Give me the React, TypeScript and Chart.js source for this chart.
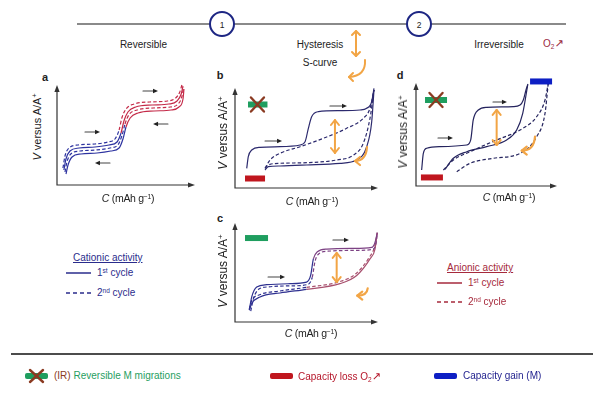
import React, { useEffect, useRef } from "react";
import { Chart, registerables } from "chart.js";
Chart.register(...registerables);

type Pt = [number, number];

// ---------- Panel a (reversible, cationic + anionic) ----------
const aCurve1: Pt[] = [[4.3,17],[5.8,29],[8.7,37],[15.2,40],[27.5,41],[37,43],[42,46],[45,55],[47,67],[50,76],[56,81],[67,83],[80,84],[86,87],[89,93],[90.5,100]];
const aCurve2: Pt[] = [[5,15],[6.5,26],[9.4,34],[16,37],[27.5,38],[37.7,40],[43.5,43],[46.4,52],[48.5,64],[51.4,73],[57,78],[69,80],[81,81],[87,84],[90,91],[91.3,99]];
const aCurve3: Pt[] = [[5.8,13],[7.2,23],[10,31],[16.7,34],[28.3,35],[38.4,37],[44,40],[47,49],[49.3,61],[52,70],[58,75],[69.6,77],[82,78],[87.7,81],[90.6,89],[91.7,98]];
const aCurve4: Pt[] = [[6.5,11],[8,20],[10.9,28],[17.4,31],[29,32],[39,34],[45,37],[47.8,46],[50,58],[53,67],[58.7,72],[70.3,74],[82.6,75],[88.4,78],[91.3,86],[92,96]];

// ---------- Panel b ----------
const bCharge1: Pt[] = [[8.2,19.7],[9.3,31.3],[11.7,38],[17.5,40.7],[31.5,41.3],[45.5,43],[49,46.3],[51.3,59.7],[53.6,71.3],[58.3,76.3],[73.4,77.3],[87.4,78],[92.1,79.7],[95.6,86.3],[97.2,99.7]];
const bCharge2: Pt[] = [[21,19.7],[24.5,28],[31.5,34.7],[45.5,41.3],[61.8,49.7],[78.1,59.7],[89.7,69.7],[94.4,79.7],[97.2,98]];
const bDischarge1: Pt[] = [[21,18],[23.3,21.3],[31.5,22],[50.1,23],[73.4,24.7],[85.1,28],[92.1,41.3],[95.6,66.3],[97.2,98]];
const bDischarge2: Pt[] = [[21,19.7],[23.3,23],[31.5,24.7],[50.1,25.3],[71.1,28],[82.7,32.7],[89.7,44.7],[94.4,69.7],[97.2,98]];

// ---------- Panel c ----------
const cCharge1: Pt[] = [[10,12],[11.7,25.3],[15.2,35.3],[22.2,37.7],[38.5,38.7],[50.1,40.3],[52.9,47],[54.8,63.7],[57.6,71],[64.1,73.7],[83,74.3],[95.6,75.3],[97.9,80.3],[99.5,90.3]];
const cCharge2: Pt[] = [[11,11],[13,24],[16.5,33],[23.5,35.5],[39,36.5],[51,38],[54,45],[56,61.5],[58.7,69],[65,71.5],[83.5,72.3],[96,73.3],[98.5,78.5],[99.5,89]];
const cDischarge1: Pt[] = [[10,12],[11.7,18.7],[17.5,25.3],[31.5,29.3],[50.1,33],[73.4,38.7],[85.1,47],[94.4,63.7],[97.9,73.7],[99.5,90.3]];
const cDischarge2: Pt[] = [[10,13],[11.5,21],[17.3,27.5],[31.3,31.3],[50,35],[73,40.7],[84.7,49],[94,65.5],[97.5,75.5],[99.5,90]];

// ---------- Panel d ----------
const dCharge1: Pt[] = [[4,15.5],[5.2,31.7],[7.6,36.6],[17,38.2],[36,39.8],[38.8,44.7],[40.6,64.1],[44.2,73.8],[50.1,76.4],[69,77],[73.8,78.6],[76.1,83.5],[78,93.2],[79.4,99]];
const dDischarge1: Pt[] = [[20.6,16.2],[26.5,26.9],[36,33.3],[50.1,38.2],[64.3,44.7],[71.4,54.4],[75.7,70.6],[79.2,98]];
const dCharge2: Pt[] = [[19.4,15.5],[26.5,25.2],[38.3,33.3],[57.2,44.7],[73.8,54.4],[85.6,67.3],[91.5,83.5],[93.8,99.7]];
const dDischarge2: Pt[] = [[28.9,13.9],[38.3,22],[54.8,26.9],[73.8,31.7],[85.6,47.9],[91.5,70.6],[93.8,99.7]];

// ---------- colours ----------
const NAVY_A = "#2d33a0";
const RED_A = "#c42a48";
const NAVY_B = "#2c2a6e";
const NAVY_C = "#2e3090";
const PURPLE_C = "#7d4284";
const RED_C = "#a8506e";
const NAVY_D = "#25245e";
const ORANGE = "#f2a545";
const XBROWN = "#8b3b22";
const GREEN = "#1f9e5f";
const REDBAR = "#c0161e";
const BLUEBAR = "#0d1fc4";
const CAT = "#2a2c8c";
const AN = "#a62a3c";

type ColorFn = (x: number, y: number) => string;
interface CurveSpec { pts: Pt[]; dash: boolean; color: ColorFn }
type Ann =
  | { t: "arrow"; x0: number; x1: number; y: number }
  | { t: "dbl"; x: number; y0: number; y1: number }
  | { t: "curl"; x0: number; y0: number; cx: number; cy: number; x1: number; y1: number }
  | { t: "bar"; x0: number; x1: number; y: number; color: string }
  | { t: "cross"; x: number; y: number };
interface PanelSpec { id: string; left: number; top: number; right: number; bottom: number; curves: CurveSpec[]; anns: Ann[] }

const colA: ColorFn = (_x, y) => (y > 57 ? RED_A : NAVY_A);
const colB: ColorFn = () => NAVY_B;
const colCCharge: ColorFn = (x) => (x > 54 ? PURPLE_C : NAVY_C);
const colCDis: ColorFn = (x) => (x > 42 ? RED_C : NAVY_C);
const colD: ColorFn = () => NAVY_D;

const PANELS: PanelSpec[] = [
  {
    id: "a", left: 57, top: 85, right: 195, bottom: 185,
    curves: [
      { pts: aCurve1, dash: true, color: colA },
      { pts: aCurve2, dash: false, color: colA },
      { pts: aCurve3, dash: true, color: colA },
      { pts: aCurve4, dash: false, color: colA },
    ],
    anns: [
      { t: "arrow", x0: 62.3, x1: 73.2, y: 94 },
      { t: "arrow", x0: 80.4, x1: 69.6, y: 61 },
      { t: "arrow", x0: 20.3, x1: 31.2, y: 53 },
      { t: "arrow", x0: 38.4, x1: 27.5, y: 22 },
    ],
  },
  {
    id: "b", left: 235, top: 88, right: 378, bottom: 188,
    curves: [
      { pts: bCharge1, dash: false, color: colB },
      { pts: bCharge2, dash: true, color: colB },
      { pts: bDischarge1, dash: false, color: colB },
      { pts: bDischarge2, dash: true, color: colB },
    ],
    anns: [
      { t: "bar", x0: 7, x1: 21, y: 9.5, color: REDBAR },
      { t: "bar", x0: 9.1, x1: 22.7, y: 83.5, color: GREEN },
      { t: "cross", x: 15.7, y: 83.5 },
      { t: "arrow", x0: 21, x1: 32.9, y: 47 },
      { t: "arrow", x0: 66.4, x1: 78.3, y: 82 },
      { t: "dbl", x: 69.9, y0: 35, y1: 68 },
      { t: "curl", x0: 92.3, y0: 41, cx: 91.6, cy: 27, x1: 83.9, y1: 27 },
    ],
  },
  {
    id: "c", left: 235, top: 223, right: 378, bottom: 322,
    curves: [
      { pts: cCharge1, dash: false, color: colCCharge },
      { pts: cCharge2, dash: true, color: colCCharge },
      { pts: cDischarge1, dash: false, color: colCDis },
      { pts: cDischarge2, dash: true, color: colCDis },
    ],
    anns: [
      { t: "bar", x0: 7, x1: 23.1, y: 84.8, color: GREEN },
      { t: "arrow", x0: 23.1, x1: 35, y: 45.5 },
      { t: "arrow", x0: 68.5, x1: 79.7, y: 82.8 },
      { t: "dbl", x: 71.1, y0: 40.4, y1: 69.7 },
      { t: "curl", x0: 92.8, y0: 34, cx: 92.3, cy: 26.6, x1: 85.5, y1: 26.6 },
    ],
  },
  {
    id: "d", left: 416, top: 83, right: 557, bottom: 186,
    curves: [
      { pts: dCharge1, dash: false, color: colD },
      { pts: dDischarge1, dash: false, color: colD },
      { pts: dCharge2, dash: true, color: colD },
      { pts: dDischarge2, dash: true, color: colD },
    ],
    anns: [
      { t: "bar", x0: 3.5, x1: 19.1, y: 8.3, color: REDBAR },
      { t: "bar", x0: 6.4, x1: 22, y: 83.5, color: GREEN },
      { t: "cross", x: 14.2, y: 83.5 },
      { t: "bar", x0: 80.9, x1: 96.5, y: 101.5, color: BLUEBAR },
      { t: "arrow", x0: 15.6, x1: 26.2, y: 46.6 },
      { t: "arrow", x0: 54.6, x1: 64.5, y: 81.6 },
      { t: "dbl", x: 57.2, y0: 39.8, y1: 73.8 },
      { t: "curl", x0: 84.4, y0: 47.9, cx: 83.7, cy: 34.3, x1: 75, y1: 34.3 },
    ],
  },
];

const PAD = 8;

function tri(ctx: CanvasRenderingContext2D, tx: number, ty: number, ang: number, len: number, hw: number) {
  ctx.save();
  ctx.translate(tx, ty);
  ctx.rotate(ang);
  ctx.beginPath();
  ctx.moveTo(0, 0);
  ctx.lineTo(-len, -hw);
  ctx.lineTo(-len, hw);
  ctx.closePath();
  ctx.fill();
  ctx.restore();
}
function chev(ctx: CanvasRenderingContext2D, tx: number, ty: number, ang: number, len: number, hw: number) {
  ctx.save();
  ctx.translate(tx, ty);
  ctx.rotate(ang);
  ctx.beginPath();
  ctx.moveTo(-len, -hw);
  ctx.lineTo(0, 0);
  ctx.lineTo(-len, hw);
  ctx.stroke();
  ctx.restore();
}

function decor(anns: Ann[]) {
  return {
    id: "decor",
    beforeDatasetsDraw(chart: any) {
      const { ctx, chartArea: a } = chart;
      ctx.save();
      ctx.strokeStyle = "#333";
      ctx.fillStyle = "#333";
      ctx.lineWidth = 1.2;
      ctx.beginPath();
      ctx.moveTo(a.left, a.top + 4);
      ctx.lineTo(a.left, a.bottom);
      ctx.lineTo(a.right - 4, a.bottom);
      ctx.stroke();
      tri(ctx, a.left, a.top, -Math.PI / 2, 7, 2.6);
      tri(ctx, a.right, a.bottom, 0, 7, 2.6);
      ctx.restore();
    },
    afterDatasetsDraw(chart: any) {
      const { ctx } = chart;
      const xs = chart.scales.x, ys = chart.scales.y;
      const px = (v: number) => xs.getPixelForValue(v);
      const py = (v: number) => ys.getPixelForValue(v);
      ctx.save();
      ctx.lineCap = "round";
      ctx.lineJoin = "round";
      for (const n of anns) {
        if (n.t === "bar") {
          ctx.fillStyle = n.color;
          const x0 = px(n.x0), x1 = px(n.x1), yc = py(n.y);
          ctx.fillRect(x0, yc - 3, x1 - x0, 6);
        } else if (n.t === "cross") {
          const cx = px(n.x), cy = py(n.y);
          ctx.strokeStyle = XBROWN;
          ctx.lineWidth = 2.4;
          ctx.beginPath();
          ctx.moveTo(cx - 6.5, cy - 7);
          ctx.lineTo(cx + 6.5, cy + 7);
          ctx.moveTo(cx + 6.5, cy - 7);
          ctx.lineTo(cx - 6.5, cy + 7);
          ctx.stroke();
        } else if (n.t === "arrow") {
          const x0 = px(n.x0), x1 = px(n.x1), yy = py(n.y);
          const dir = x1 > x0 ? 1 : -1;
          ctx.strokeStyle = "#444";
          ctx.fillStyle = "#222";
          ctx.lineWidth = 1.1;
          ctx.beginPath();
          ctx.moveTo(x0, yy);
          ctx.lineTo(x1 - dir * 4, yy);
          ctx.stroke();
          tri(ctx, x1, yy, dir > 0 ? 0 : Math.PI, 5, 2.2);
        } else if (n.t === "dbl") {
          const xx = px(n.x), y0 = py(n.y0), y1 = py(n.y1);
          ctx.strokeStyle = ORANGE;
          ctx.lineWidth = 2;
          ctx.beginPath();
          ctx.moveTo(xx, y0);
          ctx.lineTo(xx, y1);
          ctx.stroke();
          chev(ctx, xx, y1, -Math.PI / 2, 5, 4);
          chev(ctx, xx, y0, Math.PI / 2, 5, 4);
        } else if (n.t === "curl") {
          const x0 = px(n.x0), y0 = py(n.y0), cx = px(n.cx), cy = py(n.cy), x1 = px(n.x1), y1 = py(n.y1);
          ctx.strokeStyle = ORANGE;
          ctx.lineWidth = 2.2;
          ctx.beginPath();
          ctx.moveTo(x0, y0);
          ctx.quadraticCurveTo(cx, cy, x1, y1);
          ctx.stroke();
          chev(ctx, x1, y1, Math.atan2(y1 - cy, x1 - cx), 5, 4);
        }
      }
      ctx.restore();
    },
  };
}

function Panel({ spec }: { spec: PanelSpec }) {
  const ref = useRef<HTMLCanvasElement>(null);
  const w = spec.right - spec.left + 2 * PAD;
  const h = spec.bottom - spec.top + 2 * PAD;
  useEffect(() => {
    if (!ref.current) return;
    const chart = new Chart(ref.current, {
      type: "line",
      data: {
        datasets: spec.curves.map((c) => ({
          data: c.pts.map(([x, y]) => ({ x, y })),
          borderColor: c.color(50, 50),
          borderWidth: 1.2,
          borderDash: c.dash ? [3.5, 2.2] : [],
          pointRadius: 0,
          cubicInterpolationMode: "monotone" as const,
          fill: false,
          clip: false as any,
          segment: {
            borderColor: (s: any) => c.color((s.p0.parsed.x + s.p1.parsed.x) / 2, (s.p0.parsed.y + s.p1.parsed.y) / 2),
          },
        })),
      },
      options: {
        animation: false,
        responsive: false,
        maintainAspectRatio: false,
        events: [],
        layout: { padding: PAD },
        plugins: { legend: { display: false }, tooltip: { enabled: false } },
        scales: {
          x: { type: "linear", min: 0, max: 100, display: false },
          y: { type: "linear", min: 0, max: 100, display: false },
        },
      },
      plugins: [decor(spec.anns)],
    } as any);
    return () => chart.destroy();
  }, [spec]);
  return (
    <canvas
      ref={ref}
      width={w}
      height={h}
      style={{ position: "absolute", left: spec.left - PAD, top: spec.top - PAD, width: w, height: h, display: "block" }}
    />
  );
}

const Sup = ({ children }: { children: React.ReactNode }) => (
  <span style={{ fontSize: "0.65em", position: "relative", top: "-0.5em" }}>{children}</span>
);
const Sub = ({ children }: { children: React.ReactNode }) => (
  <span style={{ fontSize: "0.65em", position: "relative", top: "0.35em" }}>{children}</span>
);

function T(props: {
  x: number; y: number; children: React.ReactNode; size?: number; color?: string;
  align?: "c" | "l"; bold?: boolean; rot?: boolean; underline?: boolean; ls?: number;
}) {
  const { x, y, children, size = 10, color = "#222", align = "c", bold, rot, underline, ls } = props;
  const tr = align === "c" ? "translate(-50%,-50%)" : "translate(0,-50%)";
  return (
    <div
      style={{
        position: "absolute", left: x, top: y, fontSize: size, lineHeight: 1, color,
        whiteSpace: "nowrap", fontWeight: bold ? "bold" : "normal",
        transform: rot ? tr + " rotate(-90deg)" : tr,
        textDecoration: underline ? "underline" : "none",
        letterSpacing: ls ?? 0,
      }}
    >
      {children}
    </div>
  );
}

const YLabel = () => (
  <>
    <i>V</i> versus A/A<Sup>+</Sup>
  </>
);
const XLabel = () => (
  <>
    <i>C</i> (mAh g<Sup>−1</Sup>)
  </>
);

export default function App() {
  return (
    <div
      style={{
        position: "fixed", left: 0, top: 0, width: 600, height: 394, background: "#fff", overflow: "hidden",
        fontFamily: '"Liberation Sans", Arial, sans-serif',
      }}
    >
      <svg width={600} height={394} style={{ position: "absolute", left: 0, top: 0 }}>
        <line x1={77} y1={24} x2={566} y2={24} stroke="#8a8a8a" strokeWidth={2} />
        <circle cx={222} cy={24} r={12} fill="#fff" stroke="#1d2683" strokeWidth={2} />
        <circle cx={419} cy={24} r={12} fill="#fff" stroke="#1d2683" strokeWidth={2} />
        <g stroke={ORANGE} strokeWidth={2} fill="none" strokeLinecap="round" strokeLinejoin="round">
          <line x1={356} y1={31} x2={356} y2={56} />
          <polyline points="352,35 356,31 360,35" />
          <polyline points="352,52 356,56 360,52" />
          <path d="M365,60 Q366,76 349,77" />
          <polyline points="353,73 349,77 353,81" />
        </g>
        <line x1={66} y1={273} x2={91} y2={273} stroke={CAT} strokeWidth={1.5} />
        <line x1={66} y1={293} x2={91} y2={293} stroke={CAT} strokeWidth={1.5} strokeDasharray="4 3" />
        <line x1={437} y1={283} x2={462} y2={283} stroke={AN} strokeWidth={1.5} />
        <line x1={437} y1={302} x2={462} y2={302} stroke={AN} strokeWidth={1.5} strokeDasharray="4 3" />
        <line x1={11} y1={354} x2={593} y2={354} stroke="#111" strokeWidth={1.6} />
        <rect x={25} y={373} width={23} height={6} rx={2} fill={GREEN} />
        <g stroke={XBROWN} strokeWidth={2.4} strokeLinecap="round">
          <line x1={30} y1={370} x2={43} y2={382} />
          <line x1={43} y1={370} x2={30} y2={382} />
        </g>
        <rect x={270} y={373} width={23} height={6} rx={2} fill={REDBAR} />
        <rect x={434} y={373} width={23} height={6} rx={2} fill={BLUEBAR} />
      </svg>

      {PANELS.map((p) => (
        <Panel key={p.id} spec={p} />
      ))}

      {/* timeline */}
      <T x={222} y={24.5} size={8.5}>1</T>
      <T x={419} y={24.5} size={8.5}>2</T>
      <T x={143.5} y={45}>Reversible</T>
      <T x={320} y={45}>Hysteresis</T>
      <T x={320} y={63}>S-curve</T>
      <T x={499} y={45}>Irreversible</T>
      <T x={543} y={43} align="l" color="#9b2a3f">
        O<Sub>2</Sub>
        <span style={{ fontFamily: '"DejaVu Sans"', fontSize: 11 }}>↗</span>
      </T>

      {/* panel letters */}
      <T x={45} y={77} size={11} bold>a</T>
      <T x={220} y={75} size={11} bold>b</T>
      <T x={220} y={218} size={11} bold>c</T>
      <T x={400} y={75} size={11} bold>d</T>

      {/* axis labels */}
      <T x={38} y={127} size={11} rot><YLabel /></T>
      <T x={223} y={133} size={12} rot><YLabel /></T>
      <T x={223} y={271} size={12} rot><YLabel /></T>
      <T x={403} y={132} size={12} rot><YLabel /></T>
      <T x={128} y={198} size={10.5} ls={-0.3}><XLabel /></T>
      <T x={312} y={201} size={10.5} ls={-0.3}><XLabel /></T>
      <T x={311} y={333} size={10.5} ls={-0.3}><XLabel /></T>
      <T x={509} y={197} size={10.5} ls={-0.3}><XLabel /></T>

      {/* cationic legend */}
      <T x={73} y={258} align="l" color={CAT} underline>Cationic activity</T>
      <T x={97} y={273} align="l" color={CAT}>1<Sup>st</Sup> cycle</T>
      <T x={97} y={293} align="l" color={CAT}>2<Sup>nd</Sup> cycle</T>

      {/* anionic legend */}
      <T x={447} y={268} align="l" color={AN} underline>Anionic activity</T>
      <T x={468} y={283} align="l" color={AN}>1<Sup>st</Sup> cycle</T>
      <T x={468} y={302} align="l" color={AN}>2<Sup>nd</Sup> cycle</T>

      {/* bottom legend */}
      <T x={54} y={376} align="l" color={GREEN}>
        <span style={{ color: XBROWN }}>(IR)</span> Reversible M migrations
      </T>
      <T x={298} y={376} align="l" color="#b5162a">
        Capacity loss O<Sub>2</Sub>
        <span style={{ fontFamily: '"DejaVu Sans"', fontSize: 11 }}>↗</span>
      </T>
      <T x={463} y={376} align="l" color="#1d1d8c">Capacity gain (M)</T>
    </div>
  );
}
